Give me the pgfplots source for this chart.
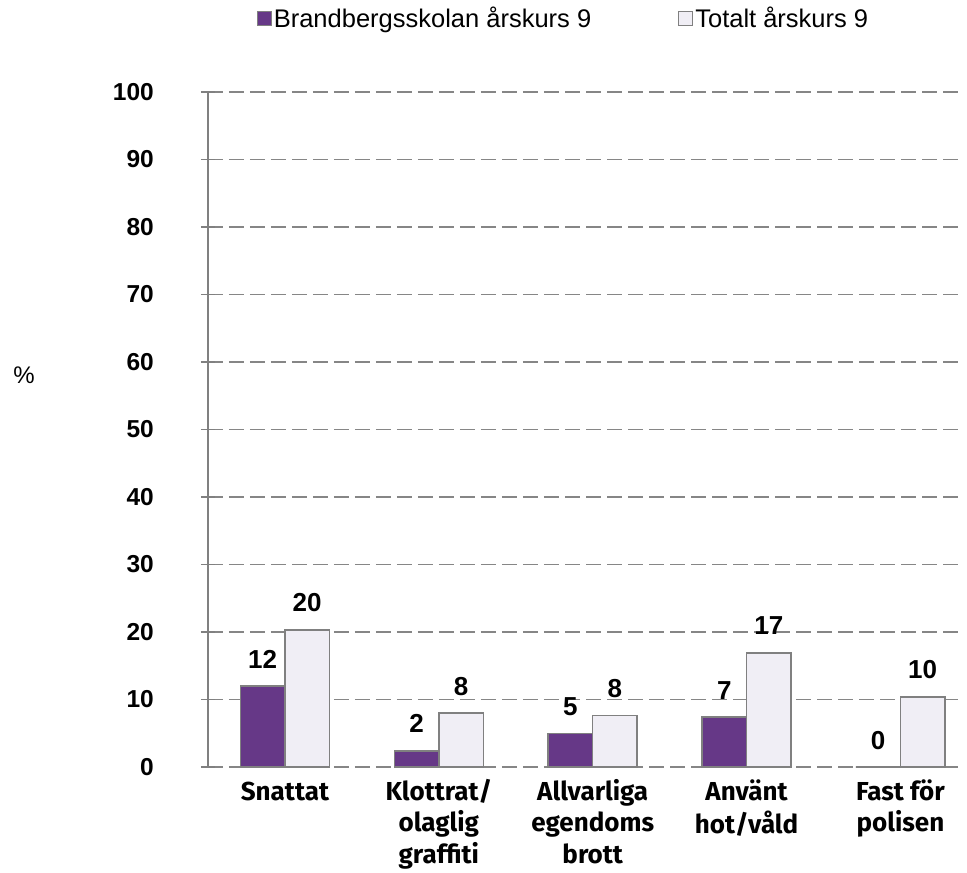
\documentclass[border=0pt]{standalone}
\usepackage{pgfplots}
\pgfplotsset{compat=1.18}
\usepackage{fontspec}
\setmainfont{Liberation Sans}
\newfontfamily\catfont{Fira Sans}
\definecolor{purp}{RGB}{102,56,135}
\definecolor{lite}{RGB}{240,238,245}
\definecolor{edge}{RGB}{128,128,128}
\definecolor{gridc}{RGB}{134,134,134}
\pgfplotsset{sqlegend/.style={legend image code/.code={\draw[##1,draw=edge,line width=1pt] (0pt,-7pt) rectangle (14pt,7pt);}}}
\begin{document}
\begin{tikzpicture}
\begin{axis}[
  at={(0pt,0pt)}, anchor=south west,
  scale only axis, width=754pt, height=675pt,
  xmin=-0.5, xmax=4.4, ymin=0, ymax=100,
  ybar=0pt, bar width=44.5pt,
  /pgf/number format/assume math mode=true,
  ytick={0,10,...,100},
  xtick={0,1,2,3,4},
  xticklabels={\strut Snattat,{\strut Klottrat/\\olaglig\\graffiti},{\strut Allvarliga\\egendoms\\brott},{\strut Använt\\hot/våld},{\strut Fast för\\polisen}},
  axis x line*=bottom, axis y line*=left,
  axis line style={-},
  x axis line style={draw=none},
  y axis line style={edge, line width=1.5pt},
  xtick style={draw=none},
  ytick style={edge, line width=1.5pt},
  ytick align=center, major tick length=14pt,
  ymajorgrids, grid style={gridc, dash pattern=on 15pt off 6pt, line width=1.5pt},
  yticklabel style={font=\bfseries\fontsize{24.5}{24.5}\selectfont, inner sep=0pt, anchor=east, xshift=-47pt},
  xticklabel style={font=\catfont\bfseries\fontsize{26}{31.5}\selectfont, align=center, anchor=north, yshift=3pt, inner sep=0pt},
  ylabel={\%}, ylabel style={rotate=-90, at={(axis description cs:-0.244,0.581)}, anchor=center, font=\fontsize{24}{24}\selectfont},
  nodes near coords={\pgfmathprintnumber[fixed,precision=0]{\pgfplotspointmeta}},
  nodes near coords style={font=\bfseries\fontsize{26}{26}\selectfont, anchor=base, yshift=18pt, inner sep=0pt},
  legend columns=2,
  legend style={draw=none, fill=none, font=\fontsize{25.5}{25.5}\selectfont, at={(axis description cs:0.4715,1.1096)}, anchor=center, nodes={inner xsep=2pt}, /tikz/every even column/.append style={column sep=85pt}},
]
\addplot[fill=purp, draw=edge, line width=1.5pt, sqlegend] coordinates {(0,12.0) (1,2.4) (2,5.0) (3,7.4) (4,0)};
\addplot[fill=lite, draw=edge, line width=1.5pt, sqlegend] coordinates {(0,20.3) (1,8.0) (2,7.6) (3,16.9) (4,10.4)};
\legend{Brandbergsskolan årskurs 9, Totalt årskurs 9}
\end{axis}
\pgfresetboundingbox
\useasboundingbox (-208pt,-106pt) rectangle (759pt,767pt);
\end{tikzpicture}
\end{document}
